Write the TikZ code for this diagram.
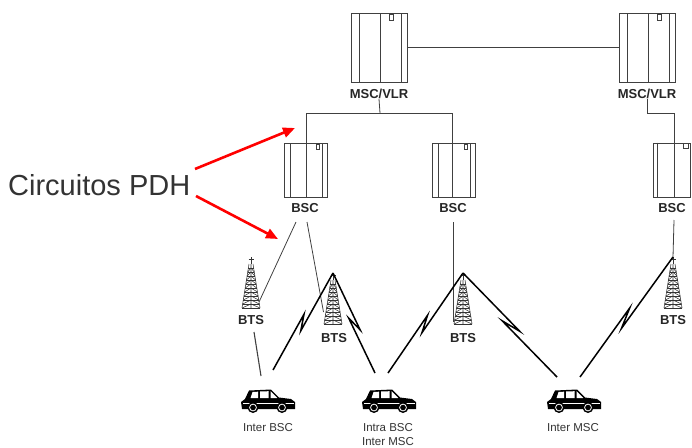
\documentclass[tikz,border=0pt]{standalone}
\usepackage{fontspec}
\setmainfont{Liberation Sans}
\usetikzlibrary{arrows.meta,calc}

\begin{document}
\begin{tikzpicture}[x=1pt,y=-1pt,
  wire/.style={draw=black!75, line width=0.8pt},
  radio/.style={draw=black, line width=1.5pt, line join=miter, miter limit=10},
  cab/.style={draw=black!75, line width=0.8pt, fill=white, inner sep=0pt},
  cabline/.style={draw=black!75, line width=0.8pt},
  towerline/.style={draw=black!80, line width=0.55pt},
  lbl/.style={font=\bfseries\fontsize{13}{13}\selectfont, inner sep=0pt, text=black!85},
  carlbl/.style={font=\fontsize{11.5}{14}\selectfont, inner sep=0pt, text=black!80, align=center},
  pdharrow/.style={draw=red, line width=2.6pt, -{Triangle[length=12pt,width=10pt]}},
  pics/mscinner/.style={code={
    \draw[cabline] (-20,-34.5) -- (-20,34.5) (1,-34.5) -- (1,34.5) (22,-34.5) -- (22,34.5);
    \draw[cabline] (-21.5,34.5) -- (-18.5,34.5) (-0.5,34.5) -- (2.5,34.5) (20.5,34.5) -- (23.5,34.5);
    \draw[cabline] (10,-33.5) rectangle (14,-27.5);
  }},
  pics/bscinner/.style={code={
    \draw[cabline] (-15.5,-27) -- (-15.5,27) (16.5,-27) -- (16.5,27);
    \draw[cabline] (10.5,-26) rectangle (13.5,-21);
  }},
  pics/tower/.style={code={
    % mast with a cross on top, lattice body below
    \draw[towerline] (0,0) -- (0,7) (-2.5,2) -- (2.5,2);
    \draw[towerline] (-2,7) -- (-9,51) (2,7) -- (9,51) (0,7) -- (0,51);
    \foreach \yy in {11,15,...,47} {
      \pgfmathsetmacro\ww{2+7*(\yy-7)/44}
      \pgfmathsetmacro\wn{2+7*(\yy-3)/44}
      \draw[towerline] (-\ww,\yy) -- (\ww,\yy);
      \draw[towerline] (-\wn,\yy+4) -- (0,\yy) -- (\wn,\yy+4);
    }
    \draw[towerline] (-9,51) -- (9,51);
  }},
  pics/car/.style={code={
    \fill[black] (-26,-4) -- (-27,-11) -- (-23,-14) -- (-19,-22.5) -- (3,-23.5)
      -- (11,-15.5) -- (23,-14) -- (27,-11) -- (27,-4) -- cycle;
    \fill[white] (-17.5,-15) -- (-15.5,-21) -- (-10,-21.3) -- (-10,-15) -- cycle;
    \fill[white] (-8,-15) -- (-8,-21.5) -- (0.5,-21.8) -- (0.5,-15) -- cycle;
    \fill[white] (2.5,-15) -- (2.5,-21.8) -- (9,-15.5) -- (9,-15) -- cycle;
    \draw[white, line width=0.8pt] (-25,-9.5) -- (26,-9.5);
    \foreach \wx in {-15,14} {
      \fill[black] (\wx,-5.5) circle (5.5);
      \draw[white, line width=0.8pt] (\wx,-5.5) circle (3.4);
      \fill[black] (\wx,-5.5) circle (1.5);
    }
  }},
]
\useasboundingbox (0,0) rectangle (692,447);

% ---------------- switching centres ----------------
\node[cab, minimum width=56pt, minimum height=69pt] (msc1) at (379,47.5) {};
\pic at (msc1) {mscinner};
\node[cab, minimum width=56pt, minimum height=69pt] (msc2) at (647,47.5) {};
\pic at (msc2) {mscinner};
\node[lbl] (msclbl1) at (379,94) {MSC/VLR};
\node[lbl] (msclbl2) at (647,94) {MSC/VLR};
\draw[wire] (msc1.east) -- (msc2.west);

% ---------------- base station controllers ----------------
\node[cab, minimum width=43pt, minimum height=54pt] (bsc1) at (305.5,170) {};
\pic at (bsc1) {bscinner};
\node[cab, minimum width=43pt, minimum height=54pt] (bsc2) at (453.5,170) {};
\pic at (bsc2) {bscinner};
\node[cab, minimum width=37pt, minimum height=54pt] (bsc3) at (671.5,170) {};
\draw[cabline] ($(bsc3.north west)+(5,0)$) -- ($(bsc3.south west)+(5,0)$);
\draw[cabline] ($(bsc3.north east)+(-7,1)$) rectangle ($(bsc3.north east)+(-2.5,6)$);
\node[lbl] (bsclbl1) at (305,208) {BSC};
\node[lbl] (bsclbl2) at (453,208) {BSC};
\node[lbl] (bsclbl3) at (672,208) {BSC};

% PDH circuits: MSC to BSC
\coordinate (bus1) at (380,113);
\coordinate (bus2) at (647,113);
\draw[wire] (msclbl1.south) -- (bus1);
\draw[wire] (306,197) -- (306,113) -- (452,113) -- (452,197);
\draw[wire] (msclbl2.south) -- (bus2) -- (674,113) -- (674,197);

% ---------------- base transceiver stations ----------------
\coordinate (bts1) at (251,257);
\coordinate (bts2) at (333,273);
\coordinate (bts3) at (463,273);
\coordinate (bts4) at (673,257);
\pic at (bts1) {tower};
\pic at (bts2) {tower};
\pic at (bts3) {tower};
\pic at (bts4) {tower};
\node[lbl] (btslbl1) at (251,320) {BTS};
\node[lbl] (btslbl2) at (334,338) {BTS};
\node[lbl] (btslbl3) at (463,338) {BTS};
\node[lbl] (btslbl4) at (673,320) {BTS};

% PDH circuits: BSC to BTS
\coordinate (b1a) at (296,222);
\coordinate (b1b) at (307,222);
\coordinate (t1base) at (259,302);
\coordinate (t2base) at (323.5,312);
\coordinate (b2a) at (453,222);
\coordinate (t3base) at (453,322);
\coordinate (b3a) at (674,220);
\draw[wire] (b1a) -- (t1base);
\draw[wire] (b1b) -- (t2base);
\draw[wire] (b2a) -- (t3base);
\draw[wire] (b3a) -- (bts4);

% ---------------- mobiles ----------------
\coordinate (car1) at (268,413);
\coordinate (car2) at (389,413);
\coordinate (car3) at (574,413);
\pic at (car1) {car};
\pic at (car2) {car};
\pic at (car3) {car};
\node[carlbl] (carlbl1) at (268,428) {Inter BSC};
\node[carlbl] (carlbl2) at (388,435) {Intra BSC\\Inter MSC};
\node[carlbl] (carlbl3) at (573,428) {Inter MSC};

% radio links
\coordinate (r1a) at (254,332);
\coordinate (r1b) at (261,376);
\coordinate (r2a) at (273,370);
\coordinate (r2b) at (375,373);
\coordinate (r3a) at (388,373);
\coordinate (r3b) at (557,377);
\coordinate (r4a) at (580,377);
\draw[wire, line width=1.1pt] (r1a) -- (r1b);
\foreach \s/\e in {bts2/r2a, bts2/r2b, bts3/r3a, bts3/r3b, bts4/r4a} {
  \draw[radio] (\s) -- ($(\s)!0.58!(\e)!3pt!90:(\e)$)
    -- ($(\s)!0.44!(\e)!3pt!-90:(\e)$) -- (\e);
}

% ---------------- annotation ----------------
\node[font=\fontsize{29}{29}\selectfont, text=black!80, inner sep=0pt, anchor=base west]
  (pdh) at (8,195) {Circuitos PDH};
\coordinate (a1s) at (195,169);
\coordinate (a1e) at (295,128);
\coordinate (a2s) at (196,196);
\coordinate (a2e) at (278,239);
\draw[pdharrow] (a1s) -- (a1e);
\draw[pdharrow] (a2s) -- (a2e);
\end{tikzpicture}
\end{document}
